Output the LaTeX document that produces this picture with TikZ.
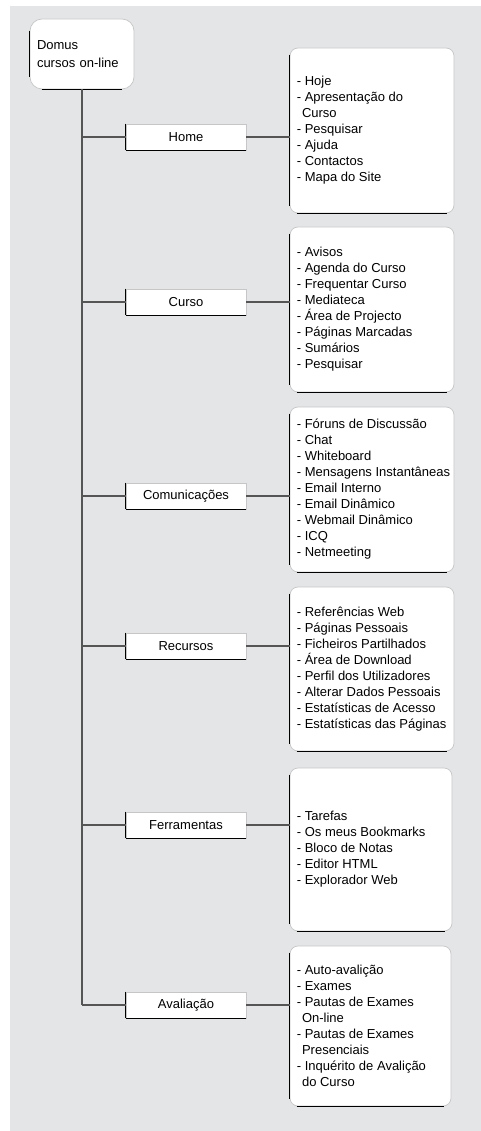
\documentclass[tikz,border=0pt]{standalone}
\usepackage{fontspec}
\setmainfont{Liberation Sans}
\usepackage{tikz}
\usetikzlibrary{positioning}
\definecolor{bggray}{RGB}{228,229,231}
\definecolor{linegray}{RGB}{85,85,85}
\tikzstyle{trunk} = [linegray, line width=2pt]
\tikzstyle{branch} = [linegray, line width=1.4pt]
\tikzstyle{darkedge} = [black, line width=1.1pt]

% dark left and bottom edge of a box: node, corner radius
\newcommand{\sunkedge}[2]{%
	\draw[darkedge] ([yshift=-#2]#1.north west) -- ([yshift=#2]#1.south west);
	\draw[darkedge] ([xshift=#2]#1.south west) -- ([xshift=-#2]#1.south east);
}
\newcommand{\ind}{\hspace*{0.4em}}

\begin{document}
\begin{tikzpicture}[
			x=1pt, y=-1pt,
			box/.style={rectangle, fill=white, draw=gray!45, line width=0.7pt},
			rootbox/.style={box, rounded corners=12pt, minimum width=104pt, minimum height=70pt, text width=90pt, inner xsep=7pt, align=left, font=\fontsize{13}{18}\selectfont},
			menubox/.style={box, minimum width=120pt, minimum height=26pt, inner sep=0pt, font=\fontsize{13}{16}\selectfont},
			listbox/.style={box, rounded corners=8pt},
			listtext/.style={inner sep=0pt, align=left, font=\fontsize{13}{16}\selectfont}
			]
			
			\useasboundingbox (0,0) rectangle (481,1131);
			\fill[bggray] (10,6) rectangle (481,1131);
			
			\node[rootbox] (root) at (82,54) {Domus\\cursos on-line};
			\sunkedge{root}{12pt}
			
			% menu entries
			\node[menubox] (hmmenu) at (186,137) {Home};
			\node[menubox] (cumenu) at (186,302) {Curso};
			\node[menubox] (cmmenu) at (186,496) {Comunicações};
			\node[menubox] (rcmenu) at (186,646) {Recursos};
			\node[menubox] (frmenu) at (186,825) {Ferramentas};
			\node[menubox] (avmenu) at (186,1005) {Avaliação};
			
			% list boxes
			\node[listbox, minimum width=164pt, minimum height=165pt] (hmbox) at (372,130.5) {};
			\node[listbox, minimum width=164pt, minimum height=165pt] (cubox) at (372,309.5) {};
			\node[listbox, minimum width=164pt, minimum height=165pt] (cmbox) at (372,489.5) {};
			\node[listbox, minimum width=164pt, minimum height=164pt] (rcbox) at (372,669) {};
			\node[listbox, minimum width=162pt, minimum height=163pt] (frbox) at (371,849.5) {};
			\node[listbox, minimum width=161pt, minimum height=160pt] (avbox) at (370.5,1026) {};
			
			\node[listtext, right=7pt of hmbox.west] (hmlist) {- Hoje\\- Apresentação do\\\ind Curso\\- Pesquisar\\- Ajuda\\- Contactos\\- Mapa do Site};
			\node[listtext, right=7pt of cubox.west] (culist) {- Avisos\\- Agenda do Curso\\- Frequentar Curso\\- Mediateca\\- Área de Projecto\\- Páginas Marcadas\\- Sumários\\- Pesquisar};
			\node[listtext, right=7pt of cmbox.west] (cmlist) {- Fóruns de Discussão\\- Chat\\- Whiteboard\\- Mensagens Instantâneas\\- Email Interno\\- Email Dinâmico\\- Webmail Dinâmico\\- ICQ\\- Netmeeting};
			\node[listtext, right=7pt of rcbox.west] (rclist) {- Referências Web\\- Páginas Pessoais\\- Ficheiros Partilhados\\- Área de Download\\- Perfil dos Utilizadores\\- Alterar Dados Pessoais\\- Estatísticas de Acesso\\- Estatísticas das Páginas};
			\node[listtext, right=7pt of frbox.west] (frlist) {- Tarefas\\- Os meus Bookmarks\\- Bloco de Notas\\- Editor HTML\\- Explorador Web};
			\node[listtext, right=7pt of avbox.west] (avlist) {- Auto-avalição\\- Exames\\- Pautas de Exames\\\ind On-line\\- Pautas de Exames\\\ind Presenciais\\- Inquérito de Avalição\\\ind do Curso};
			
			\foreach \n in {hmmenu, cumenu, cmmenu, rcmenu, frmenu, avmenu} {
				\sunkedge{\n}{0pt}
			}
			\foreach \n in {hmbox, cubox, cmbox, rcbox, frbox, avbox} {
				\sunkedge{\n}{7pt}
			}
			
			% connectors
			\draw[trunk] (root.south) -- (root.south |- avmenu.west);
			\foreach \m/\b in {hmmenu/hmbox, cumenu/cubox, cmmenu/cmbox, rcmenu/rcbox, frmenu/frbox, avmenu/avbox} {
				\draw[branch] (root.south |- \m.west) -- (\m.west);
				\draw[branch] (\m.east) -- (\m.east -| \b.west);
			}
		\end{tikzpicture}
\end{document}
